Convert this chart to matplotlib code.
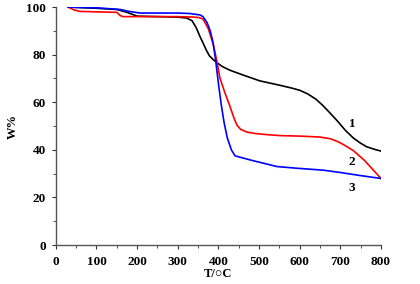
import matplotlib
matplotlib.use('Agg')
import matplotlib.pyplot as plt
from matplotlib.ticker import MultipleLocator

# sample 1 (black)
t1 = [30, 100, 150, 175, 200, 250, 300, 322, 335, 345, 355, 362, 370, 378, 387, 395,
      410, 428, 460, 502, 550, 580, 601, 620, 640, 655, 672, 692, 712, 732, 750, 765, 785, 800]
w1 = [100, 99.5, 99, 97.8, 96.2, 96, 95.8, 95.4, 94.3, 91.5, 87.5, 85, 82, 79.5, 78, 76.8,
      75, 73.5, 71.5, 69, 67.2, 66, 65, 63.5, 61.3, 59, 56, 52.3, 48.3, 45, 42.8, 41.3, 40.2, 39.5]

# sample 2 (red)
t2 = [30, 45, 59, 100, 150, 158, 165, 200, 250, 300, 340, 352, 362, 375, 387, 396, 404,
      416, 428, 438, 446, 455, 470, 490, 520, 552, 600, 650, 675, 695, 712, 732, 760, 800]
w2 = [100, 98.8, 98.2, 98, 97.8, 96.5, 96, 96, 96, 96, 95.8, 95.6, 95, 91, 84.5, 77.5, 70,
      64, 58.5, 53.5, 50.3, 48.6, 47.5, 46.9, 46.4, 46, 45.8, 45.4, 44.7, 43.4, 41.8, 39.7, 35.5, 28]

# sample 3 (blue)
t3 = [30, 100, 158, 180, 207, 250, 300, 330, 342, 355, 362, 372, 380, 387, 393,
      400, 407, 414, 422, 432, 441, 480, 544, 600, 657, 700, 750, 800]
w3 = [100, 99.7, 99, 98.2, 97.5, 97.5, 97.5, 97.3, 97, 96.7, 96, 93.5, 90, 85, 78,
      68, 59, 51.5, 45, 40, 37.5, 35.7, 33, 32.2, 31.5, 30.5, 29.2, 28]

labels = ['1', '2', '3']
label_t = [729, 729, 729]
label_w = [51, 35, 24]

plt.rcParams['font.family'] = 'Liberation Serif'
plt.rcParams['font.weight'] = 'bold'

fig = plt.figure(figsize=(4.2, 2.84), dpi=100)
ax = fig.add_axes([0.133, 0.137, 0.774, 0.838])

ax.plot(t1, w1, color='black', lw=1.2)
ax.plot(t2, w2, color='red', lw=1.2)
ax.plot(t3, w3, color='blue', lw=1.2)

for lab, x, y in zip(labels, label_t, label_w):
    ax.text(x, y, lab, fontsize=9.5, fontweight='bold', ha='center', va='center')

ax.set_xlim(0, 800)
ax.set_ylim(0, 100)
ax.xaxis.set_major_locator(MultipleLocator(100))
ax.xaxis.set_minor_locator(MultipleLocator(50))
ax.yaxis.set_major_locator(MultipleLocator(20))
ax.yaxis.set_minor_locator(MultipleLocator(10))

for s in ['top', 'right']:
    ax.spines[s].set_visible(False)
for s in ['left', 'bottom']:
    ax.spines[s].set_color('#555555')
    ax.spines[s].set_linewidth(1.0)

ax.tick_params(which='major', direction='out', length=3, width=0.8,
               labelsize=9.5, colors='#333333', labelcolor='black', pad=4)
ax.tick_params(axis='x', which='major', pad=5)
ax.tick_params(which='minor', direction='out', length=2, width=0.6, colors='#333333')

ax.set_xlabel('T/\u25cbC', fontsize=9, fontweight='bold', labelpad=0)
ax.set_ylabel('W%', fontsize=9, fontweight='bold', labelpad=5)

plt.savefig('out.png', dpi=100)
